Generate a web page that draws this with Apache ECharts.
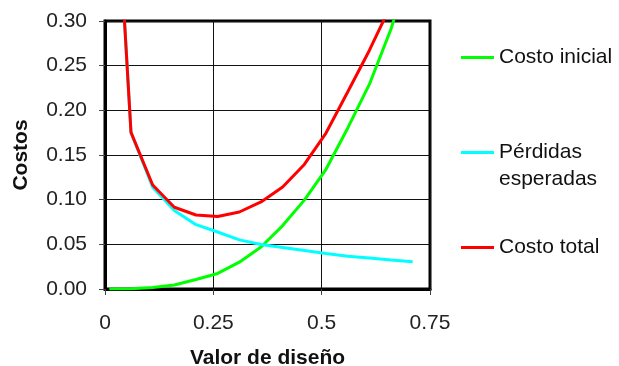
<!DOCTYPE html>
<html>
<head>
<meta charset="utf-8">
<script src="https://cdn.jsdelivr.net/npm/echarts@6/dist/echarts.min.js"></script>
<style>
html,body{margin:0;padding:0;background:#fff;}
#c{width:619px;height:366px;}
</style>
</head>
<body>
<div id="c"></div>
<script>
const xValues = [0.01,0.06,0.11,0.16,0.21,0.26,0.31,0.36,0.41,0.46,0.51,0.56,0.61,0.66,0.71];
const costoInicial = [0,0.0003,0.0018,0.0045,0.0107,0.0174,0.030,0.047,0.071,0.0995,0.134,0.180,0.229,0.291,0.37];
const perdidasEsperadas = [0.59,0.175,0.114,0.088,0.072,0.0638,0.055,0.0498,0.0465,0.0431,0.0397,0.0366,0.0347,0.0325,0.0306];
const costoTotal = [0.59,0.1754,0.1164,0.0915,0.0828,0.0812,0.0862,0.0975,0.1142,0.1394,0.1746,0.2205,0.267,0.318,0.40];
const xTicks = [0,0.25,0.5,0.75];
const yTicks = [0,0.05,0.10,0.15,0.20,0.25,0.30];

const names = ['Costo inicial','Pérdidas esperadas','Costo total'];
const colors = ['#00ff00','#00ffff','#ff0000'];
const seriesData = [costoInicial, perdidasEsperadas, costoTotal];

const font = '"Liberation Sans", Arial, sans-serif';
const chart = echarts.init(document.getElementById('c'), null, {renderer:'canvas'});

function pairs(ys){ return xValues.map((x,i)=>[x, ys[i]]); }

const legendTops = [44, 112, 234];
const option = {
  animation:false,
  backgroundColor:'#fff',
  grid:{left:105,right:189,top:21,bottom:77,show:true,borderColor:'#000',borderWidth:3,
    backgroundColor:'transparent',containLabel:false,outerBoundsMode:'none'},
  xAxis:{
    type:'value', min:xTicks[0], max:xTicks[xTicks.length-1], interval:0.25,
    name:'Valor de diseño', nameLocation:'middle', nameGap:59,
    nameTextStyle:{fontFamily:font,fontSize:21,fontWeight:'bold',color:'#111'},
    axisLine:{show:true,onZero:false,lineStyle:{color:'#000',width:3}},
    axisTick:{show:true,length:6,lineStyle:{color:'#444',width:1}},
    axisLabel:{fontFamily:font,fontSize:21,color:'#222',margin:24,
      formatter:v=>String(parseFloat(v.toFixed(2)))},
    splitLine:{show:true,lineStyle:{color:'#111',width:1}}
  },
  yAxis:{
    type:'value', min:yTicks[0], max:yTicks[yTicks.length-1], interval:0.05,
    name:'Costos', nameLocation:'middle', nameGap:73, nameRotate:90,
    nameTextStyle:{fontFamily:font,fontSize:21,fontWeight:'bold',color:'#111'},
    axisLine:{show:true,onZero:false,lineStyle:{color:'#000',width:3}},
    axisTick:{show:true,length:6,lineStyle:{color:'#444',width:1}},
    axisLabel:{fontFamily:font,fontSize:21,color:'#222',margin:18,
      formatter:v=>v.toFixed(2)},
    splitLine:{show:true,lineStyle:{color:'#111',width:1}}
  },
  legend: names.map((n,i)=>({
    data:[{name:n, icon:'rect'}],
    left:461, top:legendTops[i], orient:'vertical', padding:0,
    itemWidth:33, itemHeight:3, itemGap:0,
    formatter: name => name === 'Pérdidas esperadas' ? ' \nPérdidas\nesperadas' : name,
    textStyle:{fontFamily:font,fontSize:21,color:'#111',lineHeight:27}
  })),
  series: names.map((n,i)=>({
    name:n, type:'line', data:pairs(seriesData[i]), showSymbol:false, symbol:'none',
    clip:true, color:colors[i], lineStyle:{color:colors[i],width:3}, z:2+i
  }))
};
chart.setOption(option);
</script>
</body>
</html>
